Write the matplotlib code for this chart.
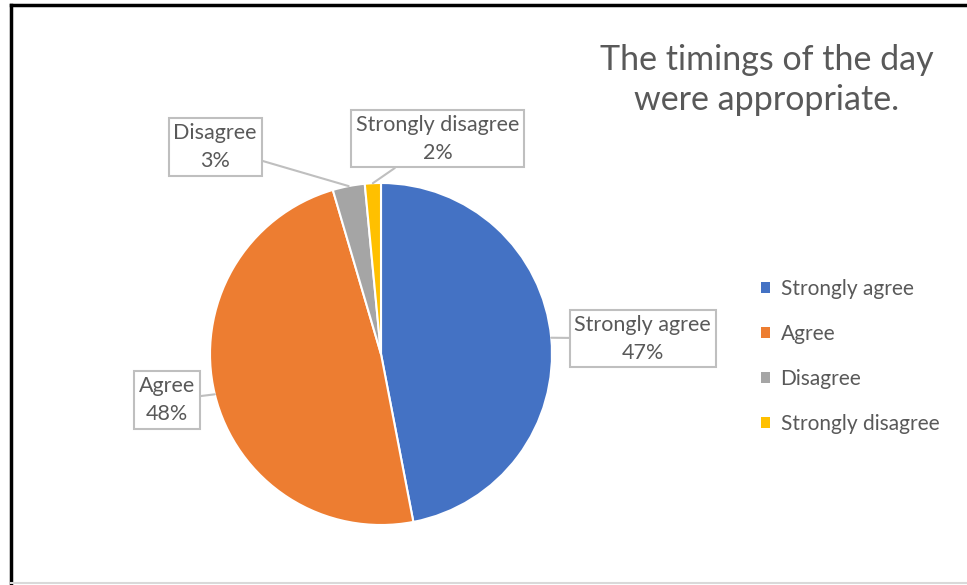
import numpy as np
import matplotlib.pyplot as plt
from matplotlib.patches import Patch

# ---------------- Data ----------------
categories = ["Strongly agree", "Agree", "Disagree", "Strongly disagree"]
counts = [31, 32, 2, 1]
colors = ["#4472C4", "#ED7D31", "#A5A5A5", "#FFC000"]
title = "The timings of the day\nwere appropriate."

# label box centres (axes data units, pie radius = 1)
label_pos = [(1.53, 0.09), (-1.25, -0.27), (-0.97, 1.21), (0.33, 1.26)]

plt.rcParams["font.family"] = ["Lato", "DejaVu Sans"]
txt_color = "#595959"

W, H = 967, 585
fig = plt.figure(figsize=(W / 100, H / 100), dpi=100)

# pie axes: centre (381, 354) px, radius 171 px
cx, cy, r = 381, 354, 171
ax = fig.add_axes([(cx - r) / W, (H - cy - r) / H, 2 * r / W, 2 * r / H])
wedges, _ = ax.pie(counts, colors=colors, startangle=90, counterclock=False,
                   radius=1, wedgeprops=dict(edgecolor="white", linewidth=1.5))
ax.set_xlim(-1, 1)
ax.set_ylim(-1, 1)
ax.set_aspect("equal")
ax.axis("off")

total = sum(counts)
for w, cat, n, pos in zip(wedges, categories, counts, label_pos):
    mid = np.deg2rad((w.theta1 + w.theta2) / 2)
    tip = (np.cos(mid) * 1.0, np.sin(mid) * 1.0)
    ax.annotate(f"{cat}\n{n / total:.0%}", xy=tip, xytext=pos,
                ha="center", va="center", fontsize=15.5, color=txt_color,
                linespacing=1.5, annotation_clip=False,
                bbox=dict(boxstyle="square,pad=0.22", fc="white",
                          ec="#BFBFBF", lw=1.5),
                arrowprops=dict(arrowstyle="-", color="#BFBFBF", lw=1.5,
                                shrinkA=0, shrinkB=0))

fig.text(767 / W, 1 - 80 / H, title, ha="center", va="center",
         fontsize=24.5, color=txt_color, linespacing=1.33)

handles = [Patch(facecolor=c, edgecolor="none") for c in colors]
fig.legend(handles, categories, loc="upper left",
           bbox_to_anchor=(742 / W, 1 - 260 / H), frameon=False,
           fontsize=15, labelcolor=txt_color, handlelength=0.45,
           handleheight=0.45, handletextpad=0.5, labelspacing=1.2)

# chart border
fig.add_artist(plt.Line2D([11 / W, 11 / W], [0, 1 - 5 / H], color="black",
                          lw=2.5, transform=fig.transFigure))
fig.add_artist(plt.Line2D([11 / W, 1], [1 - 5 / H, 1 - 5 / H], color="black",
                          lw=2.5, transform=fig.transFigure))
fig.add_artist(plt.Line2D([11 / W, 1], [2 / H, 2 / H], color="#D9D9D9",
                          lw=1.5, transform=fig.transFigure))

fig.savefig("out.png", dpi=100)
